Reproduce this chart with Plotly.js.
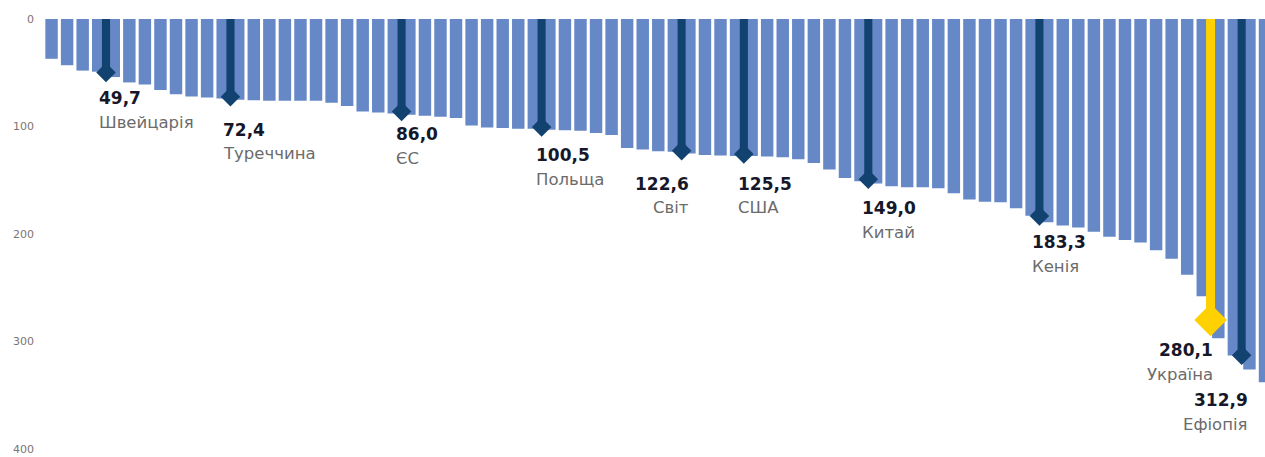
<!DOCTYPE html>
<html>
<head>
<meta charset="utf-8">
<script src="https://cdn.plot.ly/plotly-3.0.1.min.js"></script>
<style>
  html, body { margin: 0; padding: 0; background: #ffffff; }
  #chart { width: 1265px; height: 457px; }
</style>
</head>
<body>
<div id="chart"></div>
<script>
// All countries, sorted
const barValues = [
  37, 43, 48, 49, 54, 59, 61, 66, 70, 72,
  73, 74, 75, 75.5, 76, 76, 76, 76, 78, 81,
  86, 87, 88, 89, 90, 91, 92, 99, 101, 101.5,
  102, 102, 103, 103.5, 104, 106, 108, 120, 121.5, 123,
  123.5, 125, 126.5, 127, 127.5, 127.5, 128, 128.5, 130.5, 134,
  140, 148, 151, 153, 155.5, 156.5, 156.5, 157.5, 162, 168,
  170, 170.5, 176, 183, 189, 192, 194, 198, 202.5, 205.5,
  208, 215, 223, 238, 258, 297, 313, 326, 338
];

// Highlighted countries
const hlNames  = ["Швейцарія", "Туреччина", "ЄС", "Польща", "Світ", "США", "Китай", "Кенія", "Україна", "Ефіопія"];
const hlValues = [49.7, 72.4, 86.0, 100.5, 122.6, 125.5, 149.0, 183.3, 280.1, 312.9];
const hlRank   = [3.5, 11.5, 22.5, 31.5, 40.5, 44.5, 52.5, 63.5, 74.5, 76.5];

const yTicks = [0, 100, 200, 300, 400];

// Styling / layout config
const LIGHT = "#6688c6";
const DARK = "#12426f";
const YELLOW = "#ffd100";
const labelCfg = {
  "Швейцарія": {anchor: "left",  dx: -8, dy: 26},
  "Туреччина": {anchor: "left",  dx: -8, dy: 33},
  "ЄС":        {anchor: "left",  dx: -7, dy: 23},
  "Польща":    {anchor: "left",  dx: -7, dy: 28},
  "Світ":      {anchor: "right", dx: 8,  dy: 33},
  "США":       {anchor: "left",  dx: -7, dy: 30},
  "Китай":     {anchor: "left",  dx: -7, dy: 29},
  "Кенія":     {anchor: "left",  dx: -8, dy: 26},
  "Україна":   {anchor: "right", dx: 3,  dy: 30},
  "Ефіопія":   {anchor: "right", dx: 7,  dy: 45}
};

const xAll = barValues.map((v, i) => i);
const hlColors = hlNames.map(n => n === "Україна" ? YELLOW : DARK);
const hlSizes = hlNames.map(n => n === "Україна" ? 25 : 15);

const traces = [
  {
    type: "bar", x: xAll, y: barValues,
    width: barValues.map(() => 0.8),
    marker: {color: LIGHT, opacity: 1, line: {width: 0}},
    hoverinfo: "skip"
  },
  {
    type: "bar", x: hlRank, y: hlValues,
    width: hlNames.map(n => n === "Україна" ? 0.58 : 0.52),
    marker: {color: hlColors, opacity: 1, line: {width: 0}},
    hoverinfo: "skip"
  },
  {
    type: "scatter", mode: "markers", x: hlRank, y: hlValues,
    opacity: 1,
    marker: {symbol: "diamond", color: hlColors, opacity: 1, size: hlSizes, line: {width: 0}},
    hoverinfo: "skip", cliponaxis: false
  }
];

const fmt = v => v.toFixed(1).replace(".", ",");
const annotations = [];
hlNames.forEach((name, i) => {
  const c = labelCfg[name];
  annotations.push({
    x: hlRank[i], y: hlValues[i], xref: "x", yref: "y",
    text: "<b>" + fmt(hlValues[i]) + "</b>", showarrow: false,
    xanchor: c.anchor, yanchor: "middle", xshift: c.dx, yshift: -c.dy,
    font: {family: "DejaVu Sans", size: 17, color: "#16182a"}, borderpad: 0
  });
  annotations.push({
    x: hlRank[i], y: hlValues[i], xref: "x", yref: "y",
    text: name, showarrow: false,
    xanchor: c.anchor, yanchor: "middle", xshift: c.dx, yshift: -(c.dy + 24),
    font: {family: "DejaVu Sans", size: 16.5, color: "#6b6b6b"}, borderpad: 0
  });
});

const layout = {
  width: 1265, height: 457,
  margin: {l: 43, r: 0, t: 19, b: 8, pad: 0},
  paper_bgcolor: "#ffffff", plot_bgcolor: "#ffffff",
  barmode: "overlay",
  showlegend: false,
  xaxis: {range: [-0.55, 78.0], visible: false, fixedrange: true},
  yaxis: {
    range: [400, 0], tickvals: yTicks, ticktext: yTicks.map(String),
    showgrid: false, zeroline: false, showline: false, ticks: "",
    ticklabelstandoff: 8,
    tickfont: {family: "DejaVu Sans", size: 11, color: "#7d7470"}
  },
  annotations: annotations
};

Plotly.newPlot("chart", traces, layout, {displayModeBar: false, staticPlot: true});
</script>
</body>
</html>
